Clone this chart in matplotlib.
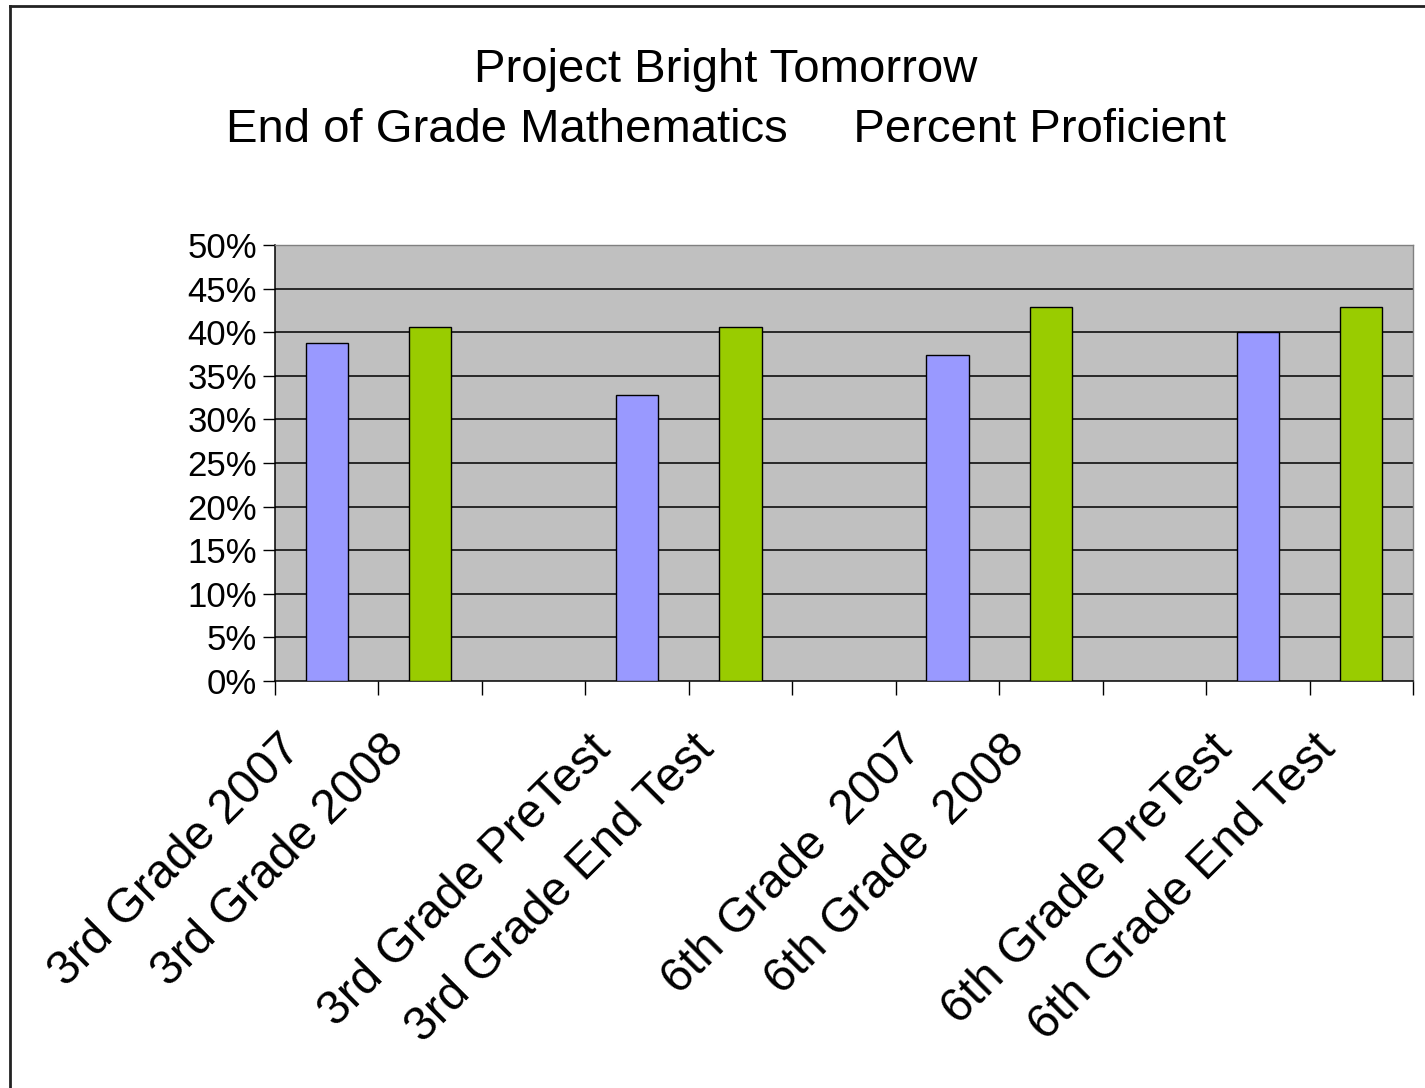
import matplotlib.pyplot as plt
import matplotlib.transforms as mtransforms
from matplotlib.lines import Line2D
import numpy as np

plt.rcParams['font.family'] = ['Liberation Sans', 'DejaVu Sans']

# colours
purple = '#9999ff'
green = '#99cc00'
plot_bg = '#c0c0c0'

# data (percent proficient), empty slots keep the gaps between groups
categories = ['3rd Grade 2007', '3rd Grade 2008', '',
              '3rd Grade PreTest', '3rd Grade End Test', '',
              '6th Grade  2007', '6th Grade  2008', '',
              '6th Grade PreTest', '6th Grade End Test']
values = [38.8, 40.6, None, 32.8, 40.6, None, 37.4, 42.9, None, 40.0, 42.9]
series = ['before', 'after', None, 'before', 'after', None,
          'before', 'after', None, 'before', 'after']
series_colors = {'before': purple, 'after': green}

fig = plt.figure(figsize=(14.25, 10.88), dpi=100)
ax = fig.add_axes([275 / 1425, 1 - 681 / 1088, (1413 - 275) / 1425, (681 - 245) / 1088])
ax.set_facecolor(plot_bg)

x = np.arange(len(categories))
for xi, v, s in zip(x, values, series):
    if v is None:
        continue
    ax.bar(xi, v, width=0.41, color=series_colors[s], edgecolor='black', lw=1, zorder=3)

ax.set_xlim(-0.5, len(categories) - 0.5)
ax.set_ylim(0, 50)

# gridlines
yt = np.arange(0, 55, 5)
for y in yt[1:-1]:
    ax.axhline(y, color='black', lw=1.1, zorder=1)

ax.set_yticks(yt)
ax.set_yticklabels([f'{int(v)}%' for v in yt], fontsize=25)
ax.tick_params(axis='y', direction='out', length=9, width=1, pad=4)

# tick marks between categories, labels at centers
ax.set_xticks(np.arange(-0.5, len(categories), 1))
ax.set_xticklabels([])
ax.tick_params(axis='x', which='major', direction='out', length=10, width=1)
ax.set_xticks(x, minor=True)
ax.set_xticklabels(categories, minor=True, fontsize=34.5, rotation=45,
                   ha='right', va='center', rotation_mode='anchor')
ax.tick_params(axis='x', which='minor', length=0, pad=44)
offset = mtransforms.ScaledTranslation(-0.33, 0, fig.dpi_scale_trans)
for lab in ax.get_xticklabels(minor=True):
    lab.set_transform(lab.get_transform() + offset)

for side in ['top', 'right']:
    ax.spines[side].set_color('#808080')
    ax.spines[side].set_linewidth(1)
for side in ['left', 'bottom']:
    ax.spines[side].set_color('black')
    ax.spines[side].set_linewidth(1.1)

# title
fig.text(726 / 1425, 1 - 70 / 1088, 'Project Bright Tomorrow', fontsize=34,
         ha='center', va='center')
fig.text(726 / 1425, 1 - 130 / 1088, 'End of Grade Mathematics     Percent Proficient',
         fontsize=34, ha='center', va='center')

# chart frame (left and top edges)
fig.add_artist(Line2D([9.5 / 1425, 9.5 / 1425], [0, 1 - 5.5 / 1088], color='#222222', lw=2))
fig.add_artist(Line2D([9.5 / 1425, 1], [1 - 5.5 / 1088, 1 - 5.5 / 1088], color='#222222', lw=2))

fig.savefig('out.png', dpi=100)
